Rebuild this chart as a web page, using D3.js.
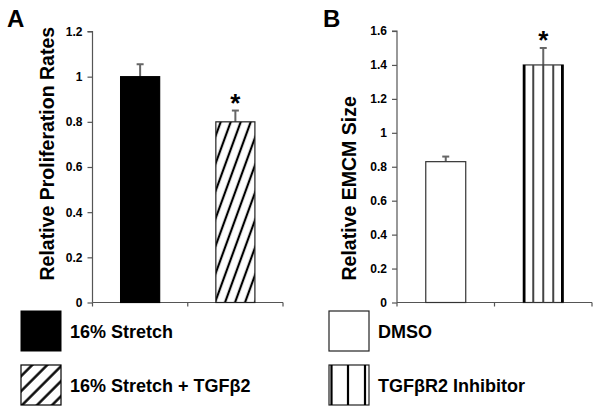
<!DOCTYPE html>
<html>
<head>
    <script src="https://cdnjs.cloudflare.com/ajax/libs/d3/7.8.5/d3.min.js"></script>
    <style>
        body { margin: 0; background: #fff; }
        svg { display: block; background: #fff; }
        text { font-family: "Liberation Sans", Arial, sans-serif; font-weight: bold; fill: #000; }
        .axis path, .axis line { stroke: #555; stroke-width: 1.2px; }
        .axis text { font-size: 12px; }
    </style>
</head>
<body>
    <svg width="602" height="414"></svg>
    <script>
        // Panel A data
        const groupsA = ["16% Stretch", "16% Stretch + TGF\u03b22"];
        const valuesA = [1.0, 0.8];
        const errorsA = [0.055, 0.05];
        const signifA = [false, true];
        const ticksA = [0, 0.2, 0.4, 0.6, 0.8, 1, 1.2];

        // Panel B data
        const groupsB = ["DMSO", "TGF\u03b2R2 Inhibitor"];
        const valuesB = [0.83, 1.4];
        const errorsB = [0.03, 0.1];
        const signifB = [false, true];
        const ticksB = [0, 0.2, 0.4, 0.6, 0.8, 1, 1.2, 1.4, 1.6];

        const svg = d3.select("svg");
        const defs = svg.append("defs");

        // Fill patterns
        function hatch(id, angle, spacing, color, width) {
            const p = defs.append("pattern")
                .attr("id", id)
                .attr("patternUnits", "userSpaceOnUse")
                .attr("width", spacing)
                .attr("height", 10)
                .attr("patternTransform", `rotate(${angle})`);
            p.append("rect").attr("width", spacing).attr("height", 10).attr("fill", "#fff");
            p.append("line")
                .attr("x1", spacing / 2).attr("x2", spacing / 2)
                .attr("y1", -1).attr("y2", 11)
                .attr("stroke", color).attr("stroke-width", width);
            return p;
        }
        hatch("diagBar", 20, 9.4, "#000", 2.2);
        hatch("diagLegend", 45, 10.6, "#000", 2.4);

        function panel(opts) {
            const { x0, x1, yTop, yBottom, groups, values, errors, signif, ticks, maxY, title, letter, letterX, titleX, fills, strokes } = opts;

            const x = d3.scaleBand().domain(groups).range([x0, x1]).padding(0);
            const y = d3.scaleLinear().domain([0, maxY]).range([yBottom, yTop]);
            const barW = x.bandwidth() * 0.41;
            const g = svg.append("g");

            // y axis
            g.append("g")
                .attr("class", "axis")
                .attr("transform", `translate(${x0},0)`)
                .call(d3.axisLeft(y).tickValues(ticks).tickSize(5).tickPadding(5).tickFormat(d3.format("~g")))
                .call(s => s.select(".domain").attr("d", `M-5,${yTop}H0V${yBottom}`));

            // x axis with ticks at band edges
            const edges = groups.map(d => x(d)).concat([x1]);
            g.append("line")
                .attr("x1", x0).attr("x2", x1).attr("y1", yBottom).attr("y2", yBottom)
                .attr("stroke", "#555").attr("stroke-width", 1.2);
            g.selectAll(".xtick").data(edges).join("line")
                .attr("x1", d => d).attr("x2", d => d)
                .attr("y1", yBottom).attr("y2", yBottom + 4)
                .attr("stroke", "#555").attr("stroke-width", 1.2);

            // error bars
            groups.forEach((d, i) => {
                const cx = x(d) + x.bandwidth() / 2;
                g.append("line")
                    .attr("x1", cx).attr("x2", cx)
                    .attr("y1", y(values[i])).attr("y2", y(values[i] + errors[i]))
                    .attr("stroke", "#666").attr("stroke-width", 2);
                g.append("line")
                    .attr("x1", cx - 3.5).attr("x2", cx + 3.5)
                    .attr("y1", y(values[i] + errors[i])).attr("y2", y(values[i] + errors[i]))
                    .attr("stroke", "#666").attr("stroke-width", 2);
                if (signif[i]) {
                    g.append("text")
                        .attr("x", cx).attr("y", y(values[i] + errors[i]) + 1)
                        .attr("text-anchor", "middle")
                        .style("font-size", "26px")
                        .text("*");
                }
            });

            // bars
            groups.forEach((d, i) => {
                const bx = x(d) + (x.bandwidth() - barW) / 2;
                fills[i](g, bx, y(values[i]), barW, yBottom - y(values[i]), strokes[i]);
            });

            // y title
            g.append("text")
                .attr("transform", `translate(${titleX},${yBottom - 22}) rotate(-90)`)
                .style("font-size", "19.5px")
                .text(title);

            // panel letter
            g.append("text")
                .attr("x", letterX).attr("y", 27)
                .style("font-size", "24px")
                .text(letter);
        }

        function solidFill(color) {
            return (g, x, y, w, h, stroke) => g.append("rect")
                .attr("x", x).attr("y", y).attr("width", w).attr("height", h)
                .attr("fill", color).attr("stroke", stroke).attr("stroke-width", 1.2);
        }
        function patternFill(id) {
            return (g, x, y, w, h, stroke) => g.append("rect")
                .attr("x", x).attr("y", y).attr("width", w).attr("height", h)
                .attr("fill", `url(#${id})`).attr("stroke", stroke).attr("stroke-width", 1.2);
        }
        function stripeFill(n) {
            return (g, x, y, w, h) => {
                g.append("rect")
                    .attr("x", x).attr("y", y).attr("width", w).attr("height", h)
                    .attr("fill", "#fff").attr("stroke", "#333").attr("stroke-width", 1.2);
                const xs = d3.range(1, n).map(k => x + k * w / n);
                g.selectAll(null).data(xs).join("line")
                    .attr("x1", d => d).attr("x2", d => d).attr("y1", y).attr("y2", y + h)
                    .attr("stroke", "#444").attr("stroke-width", 2);
                g.selectAll(null).data([x + 1, x + w - 1]).join("line")
                    .attr("x1", d => d).attr("x2", d => d).attr("y1", y).attr("y2", y + h)
                    .attr("stroke", "#000").attr("stroke-width", 2.5);
            };
        }

        panel({
            x0: 92.5, x1: 283, yTop: 31.5, yBottom: 302.5,
            groups: groupsA, values: valuesA, errors: errorsA, signif: signifA,
            ticks: ticksA, maxY: 1.2,
            title: "Relative Proliferation Rates", letter: "A", letterX: 7, titleX: 54,
            fills: [solidFill("#000"), patternFill("diagBar")], strokes: ["#000", "#222"]
        });
        panel({
            x0: 397, x1: 592, yTop: 31, yBottom: 302.5,
            groups: groupsB, values: valuesB, errors: errorsB, signif: signifB,
            ticks: ticksB, maxY: 1.6,
            title: "Relative EMCM Size", letter: "B", letterX: 323, titleX: 356,
            fills: [solidFill("#fff"), stripeFill(4)], strokes: ["#333", "#000"]
        });

        // Legends
        const legendItems = [
            { label: groupsA[0], x: 21, y: 311, draw: (g, x, y) => g.append("rect").attr("x", x).attr("y", y).attr("width", 40).attr("height", 40).attr("fill", "#000").attr("stroke", "#000") },
            { label: groupsA[1], x: 21, y: 365, draw: (g, x, y) => g.append("rect").attr("x", x).attr("y", y).attr("width", 40).attr("height", 40).attr("fill", "url(#diagLegend)").attr("stroke", "#000").attr("stroke-width", 1.2) },
            { label: groupsB[0], x: 329, y: 311, draw: (g, x, y) => g.append("rect").attr("x", x).attr("y", y).attr("width", 40).attr("height", 40).attr("fill", "#fff").attr("stroke", "#222").attr("stroke-width", 1.2) },
            { label: groupsB[1], x: 329, y: 365, draw: (g, x, y) => {
                g.append("rect").attr("x", x).attr("y", y).attr("width", 40).attr("height", 40).attr("fill", "#fff").attr("stroke", "#222").attr("stroke-width", 1.2);
                [2.5, 19, 36].forEach(o => g.append("line")
                    .attr("x1", x + o).attr("x2", x + o).attr("y1", y).attr("y2", y + 40)
                    .attr("stroke", "#000").attr("stroke-width", 2.2));
            } }
        ];
        const lg = svg.append("g");
        legendItems.forEach(d => {
            d.draw(lg, d.x, d.y);
            lg.append("text")
                .attr("x", d.x + 49).attr("y", d.y + 27)
                .style("font-size", "18px")
                .text(d.label);
        });
    </script>
</body>
</html>
